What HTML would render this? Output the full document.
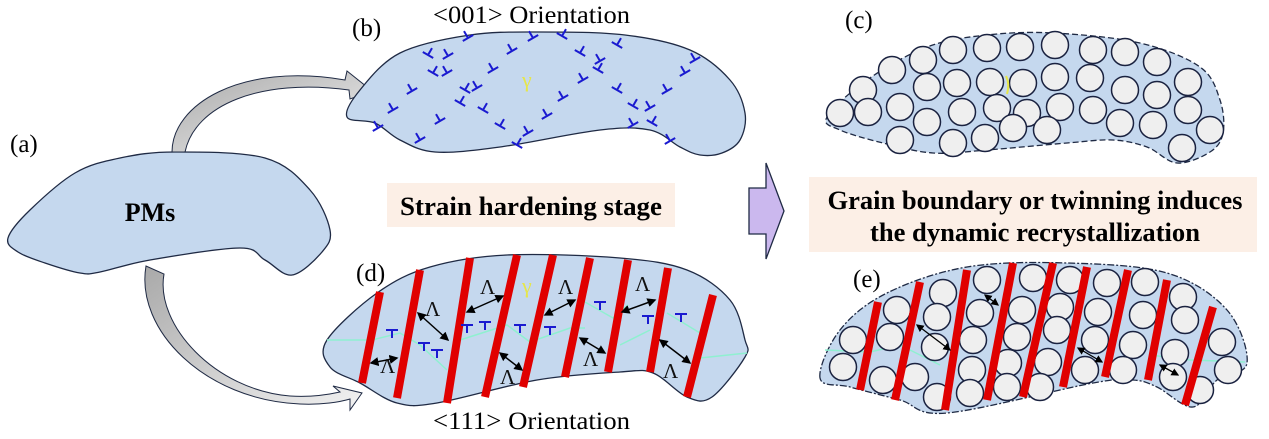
<!DOCTYPE html>
<html><head><meta charset="utf-8"><style>
html,body{margin:0;padding:0;background:#fff;}
svg{display:block;}
svg text{font-family:"Liberation Serif","Times New Roman",serif;}
</style></head><body>
<svg id="sv" width="1269" height="439" viewBox="0 0 1269 439" xmlns="http://www.w3.org/2000/svg">
<defs>
<linearGradient id="ga" x1="0" y1="0" x2="1" y2="1"><stop offset="0" stop-color="#a9a9a9"/><stop offset="1" stop-color="#f2f2f2"/></linearGradient>
<g id="d"><path d="M-6,0H6M0,0V-8" stroke="#1a1ad0" stroke-width="2" fill="none"/></g>
<marker id="ah" markerWidth="6" markerHeight="6" refX="5" refY="3" orient="auto-start-reverse" markerUnits="strokeWidth"><path d="M0,0L6,3L0,6z" fill="#000"/></marker>
</defs>

<path id="pa" d="" fill="#c5d8ee" stroke="#1f2a44" stroke-width="1.3"/>
<text x="150" y="221" font-size="26" font-weight="bold" text-anchor="middle">PMs</text>
<text x="10" y="152" font-size="25">(a)</text>

<path d="M172,152 C172,105 240,62 345,80 L347,71 L372,91 L350,99 L349,90 C260,78 195,105 185,152 Z" fill="url(#ga)" stroke="#1f2a44" stroke-width="1"/>
<path d="M146,266 C135,330 205,400 300,404 C322,405 340,402 350,399 L350,410 L362,393 L333,386 L340,392 C322,396 305,397 290,396 C215,390 155,325 164,274 Z" fill="url(#ga)" stroke="#1f2a44" stroke-width="1"/>

<text x="352" y="36" font-size="25">(b)</text>
<text x="433" y="23" font-size="25" font-family="Liberation Serif, serif" textLength="197" lengthAdjust="spacingAndGlyphs">&lt;001&gt; Orientation</text>
<path id="pb" d="" fill="#c5d8ee" stroke="#1f2a44" stroke-width="1.3"/>
<text x="522" y="87" font-size="22" fill="#e6e64a">γ</text>
<g>
<use href="#d" transform="translate(468,38) rotate(-30)"/><use href="#d" transform="translate(533,38) rotate(-30)"/><use href="#d" transform="translate(562,36) rotate(30)"/><use href="#d" transform="translate(617,45) rotate(30)"/>
<use href="#d" transform="translate(428,55) rotate(30)"/><use href="#d" transform="translate(448,56) rotate(-30)"/><use href="#d" transform="translate(512,51) rotate(-30)"/><use href="#d" transform="translate(580,53) rotate(30)"/>
<use href="#d" transform="translate(600,61) rotate(-30)"/><use href="#d" transform="translate(695,60) rotate(-30)"/><use href="#d" transform="translate(433,73) rotate(30)"/><use href="#d" transform="translate(447,73) rotate(-30)"/>
<use href="#d" transform="translate(493,70) rotate(-30)"/><use href="#d" transform="translate(583,80) rotate(-30)"/><use href="#d" transform="translate(598,70) rotate(30)"/><use href="#d" transform="translate(685,73) rotate(-30)"/>
<use href="#d" transform="translate(412,91) rotate(-30)"/><use href="#d" transform="translate(465,90) rotate(30)"/><use href="#d" transform="translate(477,88) rotate(-30)"/><use href="#d" transform="translate(617,90) rotate(30)"/>
<use href="#d" transform="translate(667,91) rotate(-30)"/><use href="#d" transform="translate(563,98) rotate(-30)"/><use href="#d" transform="translate(393,110) rotate(-30)"/><use href="#d" transform="translate(460,103) rotate(30)"/>
<use href="#d" transform="translate(483,110) rotate(30)"/><use href="#d" transform="translate(547,116) rotate(-30)"/><use href="#d" transform="translate(378,128) rotate(-30)"/><use href="#d" transform="translate(440,121) rotate(-30)"/>
<use href="#d" transform="translate(500,126) rotate(30)"/><use href="#d" transform="translate(633,125) rotate(-30)"/><use href="#d" transform="translate(652,123) rotate(30)"/><use href="#d" transform="translate(420,140) rotate(-30)"/>
<use href="#d" transform="translate(528,133) rotate(-30)"/><use href="#d" transform="translate(517,145) rotate(30)"/><use href="#d" transform="translate(670,141) rotate(-30)"/><use href="#d" transform="translate(633,106) rotate(30)"/><use href="#d" transform="translate(650,108) rotate(-30)"/>
</g>

<rect x="387" y="183" width="288" height="44" fill="#fcefe6"/>
<text x="531" y="215" font-size="26" font-weight="bold" text-anchor="middle" textLength="262" lengthAdjust="spacingAndGlyphs">Strain hardening stage</text>

<text x="356" y="281" font-size="25">(d)</text>
<path id="pd" d="" fill="#c5d8ee" stroke="#1f2a44" stroke-width="1.3"/>
<g stroke="#8ff0d0" stroke-width="1.5" fill="none">
<path d="M327,340 L372,340 L400,333 L420,345 L447,370"/><path d="M460,340 L507,325 L530,342 L570,328 L585,328"/><path d="M585,302 L613,318 L628,305"/><path d="M667,313 L700,333"/><path d="M700,358 L747,353"/><path d="M620,345 L650,330"/>
</g>
<g stroke="#e00000" stroke-width="8" stroke-linecap="butt">
<line x1="380" y1="292" x2="362" y2="383"/><line x1="420" y1="270" x2="397" y2="398"/><line x1="470" y1="258" x2="447" y2="403"/><line x1="517" y1="255" x2="485" y2="397"/><line x1="553" y1="255" x2="523" y2="387"/><line x1="590" y1="258" x2="565" y2="377"/><line x1="628" y1="260" x2="608" y2="372"/><line x1="668" y1="268" x2="650" y2="372"/><line x1="713" y1="295" x2="687" y2="397"/>
</g>
<g stroke="#000" stroke-width="1.5" marker-start="url(#ah)" marker-end="url(#ah)">
<line x1="371" y1="363" x2="397" y2="358"/><line x1="418" y1="313" x2="448" y2="340"/><line x1="467" y1="312" x2="503" y2="296"/><line x1="500" y1="353" x2="522" y2="370"/><line x1="545" y1="315" x2="575" y2="300"/><line x1="580" y1="338" x2="605" y2="353"/><line x1="622" y1="312" x2="655" y2="300"/><line x1="660" y1="340" x2="690" y2="363"/>
</g>
<g font-size="21" fill="#111">
<text x="380" y="373">Λ</text><text x="425" y="316">Λ</text><text x="480" y="294">Λ</text><text x="500" y="384">Λ</text><text x="558" y="294">Λ</text><text x="583" y="366">Λ</text><text x="635" y="291">Λ</text><text x="663" y="378">Λ</text>
</g>
<text x="522" y="293" font-size="22" fill="#e6e64a">γ</text>
<g>
<use href="#d" transform="translate(392,330) rotate(180)"/><use href="#d" transform="translate(424,343) rotate(180)"/><use href="#d" transform="translate(437,350) rotate(180)"/><use href="#d" transform="translate(467,325) rotate(180)"/><use href="#d" transform="translate(485,322) rotate(180)"/><use href="#d" transform="translate(520,325) rotate(180)"/><use href="#d" transform="translate(550,327) rotate(180)"/><use href="#d" transform="translate(600,302) rotate(180)"/><use href="#d" transform="translate(648,316) rotate(180)"/><use href="#d" transform="translate(681,314) rotate(180)"/>
</g>
<text x="433" y="429" font-size="25" font-family="Liberation Serif, serif" textLength="197" lengthAdjust="spacingAndGlyphs">&lt;111&gt; Orientation</text>

<path d="M749,188 L766,188 L766,163 L784,211 L766,259 L766,234 L749,234 Z" fill="#cbb8ee" stroke="#1f2a44" stroke-width="1.3"/>

<text x="845" y="28" font-size="25">(c)</text>
<path id="pc" d="" fill="#c5d8ee" stroke="#1f2a44" stroke-width="1.3" stroke-dasharray="6,3"/>
<g fill="#efefef" stroke="#1a2240" stroke-width="1.5">
<circle cx="953" cy="50" r="13.5"/><circle cx="987" cy="48" r="13.5"/><circle cx="1020" cy="47" r="13.5"/><circle cx="1055" cy="45" r="13.5"/><circle cx="1093" cy="50" r="13.5"/><circle cx="1125" cy="52" r="13.5"/><circle cx="1157" cy="62" r="13.5"/><circle cx="1188" cy="82" r="13.5"/>
<circle cx="923" cy="60" r="13.5"/><circle cx="892" cy="70" r="13.5"/><circle cx="863" cy="90" r="13.5"/><circle cx="957" cy="83" r="13.5"/><circle cx="990" cy="82" r="13.5"/><circle cx="1023" cy="83" r="13.5"/><circle cx="1055" cy="77" r="13.5"/><circle cx="1090" cy="78" r="13.5"/><circle cx="1125" cy="90" r="13.5"/><circle cx="1157" cy="95" r="13.5"/>
<circle cx="840" cy="113" r="13.5"/><circle cx="868" cy="112" r="13.5"/><circle cx="900" cy="107" r="13.5"/><circle cx="927" cy="87" r="13.5"/><circle cx="962" cy="112" r="13.5"/><circle cx="997" cy="108" r="13.5"/><circle cx="1027" cy="113" r="13.5"/><circle cx="1060" cy="107" r="13.5"/><circle cx="1093" cy="110" r="13.5"/><circle cx="1120" cy="123" r="13.5"/><circle cx="1153" cy="125" r="13.5"/><circle cx="1188" cy="110" r="13.5"/><circle cx="1210" cy="130" r="13.5"/>
<circle cx="900" cy="140" r="13.5"/><circle cx="927" cy="122" r="13.5"/><circle cx="953" cy="143" r="13.5"/><circle cx="985" cy="138" r="13.5"/><circle cx="1013" cy="128" r="13.5"/><circle cx="1047" cy="130" r="13.5"/><circle cx="1182" cy="148" r="13.5"/>
</g>
<path d="M1006,76 Q1010,84 1007,94" stroke="#e6e64a" stroke-width="2" fill="none"/>

<rect x="809" y="177" width="448" height="75" fill="#fcefe6"/>
<text x="1035" y="209" font-size="26" font-weight="bold" text-anchor="middle" textLength="415" lengthAdjust="spacingAndGlyphs">Grain boundary or twinning induces</text>
<text x="1035" y="241" font-size="26" font-weight="bold" text-anchor="middle" textLength="330" lengthAdjust="spacingAndGlyphs">the dynamic recrystallization</text>

<text x="853" y="287" font-size="25">(e)</text>
<path id="pe" d="" fill="#c5d8ee" stroke="#1f2a44" stroke-width="1.3" stroke-dasharray="7,2,2,2"/>
<g stroke="#8ff0d0" stroke-width="1.5" fill="none"><path d="M825,350 L870,352 L900,345 L940,365"/><path d="M1150,355 L1190,360 L1245,362"/></g>
<g fill="#efefef" stroke="#1a2240" stroke-width="1.5">
<circle cx="897" cy="310" r="13.5"/><circle cx="943" cy="293" r="13.5"/><circle cx="987" cy="280" r="13.5"/><circle cx="1033" cy="278" r="13.5"/><circle cx="1070" cy="280" r="13.5"/><circle cx="1107" cy="283" r="13.5"/><circle cx="1145" cy="282" r="13.5"/><circle cx="1183" cy="297" r="13.5"/>
<circle cx="853" cy="340" r="13.5"/><circle cx="890" cy="337" r="13.5"/><circle cx="937" cy="317" r="13.5"/><circle cx="980" cy="313" r="13.5"/><circle cx="1022" cy="310" r="13.5"/><circle cx="1060" cy="307" r="13.5"/><circle cx="1098" cy="312" r="13.5"/><circle cx="1143" cy="315" r="13.5"/><circle cx="1185" cy="320" r="13.5"/>
<circle cx="843" cy="367" r="13.5"/><circle cx="883" cy="380" r="13.5"/><circle cx="935" cy="347" r="13.5"/><circle cx="973" cy="340" r="13.5"/><circle cx="1017" cy="337" r="13.5"/><circle cx="1057" cy="330" r="13.5"/><circle cx="1095" cy="340" r="13.5"/><circle cx="1133" cy="345" r="13.5"/><circle cx="1175" cy="353" r="13.5"/><circle cx="1222" cy="342" r="13.5"/>
<circle cx="915" cy="377" r="13.5"/><circle cx="972" cy="370" r="13.5"/><circle cx="1008" cy="363" r="13.5"/><circle cx="1048" cy="362" r="13.5"/><circle cx="1085" cy="370" r="13.5"/><circle cx="1123" cy="370" r="13.5"/><circle cx="1173" cy="377" r="13.5"/><circle cx="1228" cy="370" r="13.5"/>
<circle cx="937" cy="397" r="13.5"/><circle cx="970" cy="393" r="13.5"/><circle cx="1007" cy="387" r="13.5"/><circle cx="1040" cy="387" r="13.5"/><circle cx="1200" cy="390" r="13.5"/>
</g>
<g stroke="#e00000" stroke-width="8">
<line x1="878" y1="302" x2="860" y2="390"/><line x1="920" y1="282" x2="895" y2="400"/><line x1="967" y1="270" x2="945" y2="410"/><line x1="1013" y1="263" x2="987" y2="400"/><line x1="1053" y1="263" x2="1023" y2="397"/><line x1="1087" y1="267" x2="1063" y2="387"/><line x1="1128" y1="270" x2="1105" y2="377"/><line x1="1167" y1="280" x2="1148" y2="380"/><line x1="1213" y1="307" x2="1185" y2="405"/>
</g>
<g stroke="#000" stroke-width="1.3" marker-start="url(#ah)" marker-end="url(#ah)">
<line x1="917" y1="325" x2="950" y2="350"/><line x1="985" y1="295" x2="998" y2="305"/><line x1="1078" y1="348" x2="1102" y2="362"/><line x1="1160" y1="365" x2="1178" y2="375"/>
</g>
</svg>
<script>
function smooth(p){var n=p.length,s="M"+p[0][0]+","+p[0][1];
for(var i=0;i<n;i++){var p0=p[(i-1+n)%n],p1=p[i],p2=p[(i+1)%n],p3=p[(i+2)%n];
var c1=[p1[0]+(p2[0]-p0[0])/6,p1[1]+(p2[1]-p0[1])/6],c2=[p2[0]-(p3[0]-p1[0])/6,p2[1]-(p3[1]-p1[1])/6];
s+=" C"+c1[0].toFixed(1)+","+c1[1].toFixed(1)+" "+c2[0].toFixed(1)+","+c2[1].toFixed(1)+" "+p2[0]+","+p2[1];}
return s+"Z";}
var S={
pa:[[8,238],[30,210],[75,173],[120,158],[175,152],[265,158],[310,190],[330,230],[322,252],[292,275],[265,260],[240,248],[150,260],[100,272],[80,273],[45,263],[18,252]],
pb:[[347,117],[360,90],[400,53],[470,35],[540,32],[625,35],[690,50],[730,80],[745,113],[740,140],[722,153],[700,155],[680,147],[650,130],[600,130],[500,147],[435,152],[400,140],[375,123]],
pd:[[327,340],[377,293],[430,267],[507,255],[620,258],[687,270],[730,300],[745,340],[745,357],[712,397],[687,397],[653,373],[620,372],[537,380],[437,403],[397,403],[360,383],[330,367]],
pc:[[827,117],[867,80],[927,47],[987,35],[1053,33],[1140,43],[1200,67],[1220,100],[1223,133],[1210,152],[1177,163],[1147,147],[1113,140],[1067,143],[987,150],[933,153],[883,143],[840,130]],
pe:[[820,378],[840,330],[887,293],[967,267],[1067,263],[1167,273],[1227,310],[1247,363],[1217,380],[1193,407],[1157,387],[1133,380],[1093,383],[947,413],[900,400],[850,387]]};
for(var k in S)document.getElementById(k).setAttribute("d",smooth(S[k]));
</script>
</body></html>
